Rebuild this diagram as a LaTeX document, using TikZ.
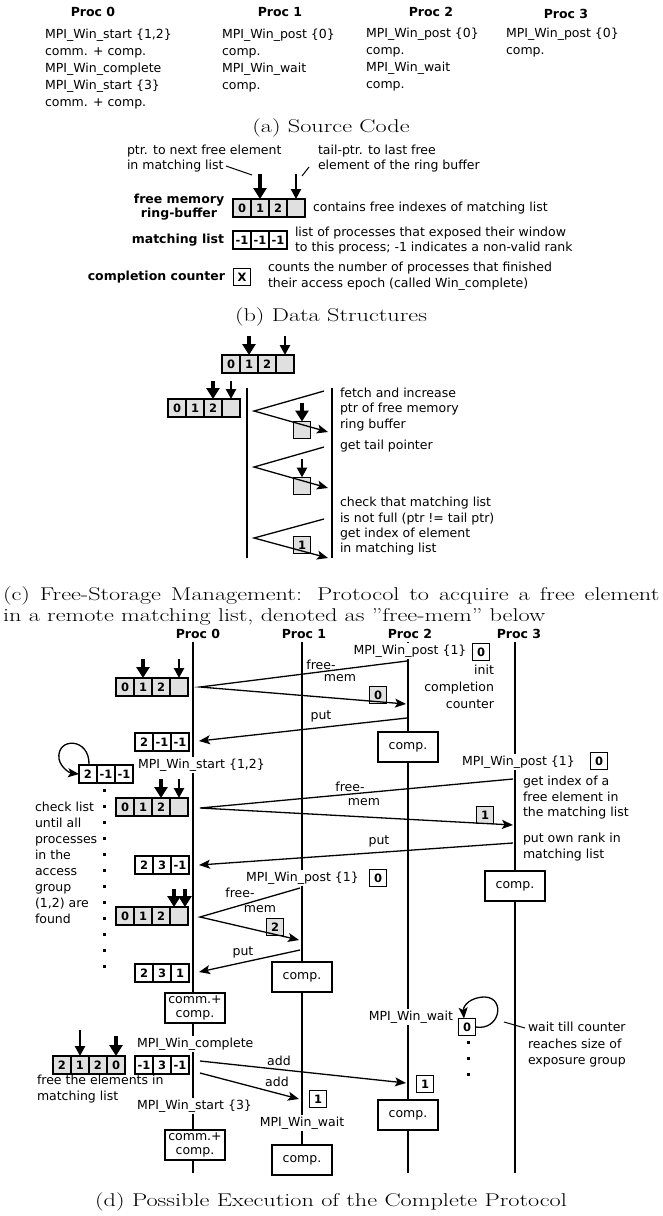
\documentclass[tikz,border=0pt]{standalone}
\usepackage{fontspec}
\usepackage{graphicx}
\setsansfont{DejaVu Sans}
\usetikzlibrary{arrows.meta,positioning}
\newcommand{\mycapt}[1]{\scalebox{1.31}[1]{#1}}
\begin{document}
\begin{tikzpicture}[x=1pt,y=-1pt,
  every node/.style={inner sep=0pt, outer sep=0pt},
  txt/.style={font=\fontsize{12.5}{16}\selectfont\sffamily, align=left},
  ls/.style={font=\fontsize{12.5}{#1}\selectfont\sffamily},
  wtxt/.style={txt, fill=white, inner ysep=2pt},
  hdr/.style={font=\fontsize{12.5}{15}\selectfont\sffamily\bfseries},
  btxt/.style={font=\fontsize{12.5}{14}\selectfont\sffamily\bfseries, align=center},
  captxt/.style={font=\fontsize{18.5}{22}\selectfont},
  cell/.style={draw, line width=1.4pt, minimum width=18pt, minimum height=18pt, font=\fontsize{11.5}{12}\selectfont\sffamily\bfseries},
  gcell/.style={cell, fill=black!12},
  sbox/.style={cell, minimum width=17pt, minimum height=17pt},
  gsbox/.style={sbox, fill=black!12},
  compbox/.style={draw, line width=1.4pt, fill=white, minimum width=60pt, minimum height=30pt, font=\fontsize{12.5}{14}\selectfont\sffamily, align=center},
  life/.style={line width=1.5pt},
  msg/.style={line width=1.3pt, -{Stealth[length=11pt,width=9pt,inset=2.5pt]}},
  ptrA/.style={line width=3.2pt, -{Triangle[length=11pt,width=13pt]}},
  ptrB/.style={line width=2.6pt, -{Triangle[length=10pt,width=10pt]}},
  lead/.style={line width=1pt},
]
\useasboundingbox (0,0) rectangle (662,1216);

% ================= (a) Source Code =================
\node[hdr] (h0) at (93,12) {Proc 0};
\node[hdr] (h1) at (280,12) {Proc 1};
\node[hdr] (h2) at (431,12) {Proc 2};
\node[hdr] (h3) at (566,14) {Proc 3};
\node[txt, ls=17, anchor=north west] (c0) at (45,28.5) {MPI\_Win\_start \{1,2\}\\comm. + comp.\\MPI\_Win\_complete\\MPI\_Win\_start \{3\}\\comm. + comp.};
\node[txt, ls=17, anchor=north west] (c1) at (222,28.5) {MPI\_Win\_post \{0\}\\comp.\\MPI\_Win\_wait\\comp.};
\node[txt, ls=17, anchor=north west] (c2) at (366,27.5) {MPI\_Win\_post \{0\}\\comp.\\MPI\_Win\_wait\\comp.};
\node[txt, ls=17, anchor=north west] (c3) at (506,27.5) {MPI\_Win\_post \{0\}\\comp.};
\node[captxt] (capa) at (331,128) {\mycapt{(a) Source Code}};

% ================= (b) Data Structures =================
\node[txt, ls=15, anchor=north west] (t1) at (127,144.5) {ptr. to next free element\\in matching list};
\node[txt, ls=15, anchor=north west] (t2) at (318,144.5) {tail-ptr. to last free\\element of the ring buffer};
\node[gcell] (b0) at (242,208) {0};
\node[gcell, right=0pt of b0] (b1) {1};
\node[gcell, right=0pt of b1] (b2) {2};
\node[gcell, right=0pt of b2] (b3) {};
\coordinate (l1a) at (226,166); \coordinate (l1b) at (252,175);
\coordinate (l2a) at (309,167); \coordinate (l2b) at (302,176);
\draw[lead] (l1a) -- (l1b);
\draw[lead] (l2a) -- (l2b);
\draw[ptrA] ([yshift=25pt]b1.north) -- (b1.north);
\draw[ptrB] ([yshift=25pt]b3.north) -- (b3.north);
\node[btxt] (fm) at (179,207) {free memory\\ring-buffer};
\node[txt, anchor=west] (fmt) at (313,208) {contains free indexes of matching list};
\node[btxt, anchor=east] (mll) at (224,240) {matching list};
\node[cell] (mb0) at (242,240) {-1};
\node[cell, right=0pt of mb0] (mb1) {-1};
\node[cell, right=0pt of mb1] (mb2) {-1};
\node[txt, ls=15, anchor=west] (mlt) at (295,241) {list of processes that exposed their window\\to this process; -1 indicates a non-valid rank};
\node[btxt, anchor=east] (ccl) at (225,277) {completion counter};
\node[sbox] (xb) at (242,277) {X};
\node[txt, ls=15.5, anchor=west] (cct) at (268,276) {counts the number of processes that finished\\their access epoch (called Win\_complete)};
\node[captxt] (capb) at (331,317) {\mycapt{(b) Data Structures}};

% ================= (c) Free-storage management =================
\node[gcell] (e0) at (231,364) {0};
\node[gcell, right=0pt of e0] (e1) {1};
\node[gcell, right=0pt of e1] (e2) {2};
\node[gcell, right=0pt of e2] (e3) {};
\draw[ptrA] ([yshift=19pt]e1.north) -- (e1.north);
\draw[ptrB] ([yshift=19pt]e3.north) -- (e3.north);
\node[gcell] (f0) at (177,408) {0};
\node[gcell, right=0pt of f0] (f1) {1};
\node[gcell, right=0pt of f1] (f2) {2};
\node[gcell, right=0pt of f2] (f3) {};
\draw[ptrA] ([yshift=18pt]f2.north) -- (f2.north);
\draw[ptrB] ([yshift=18pt]f3.north) -- (f3.north);
\coordinate (cl0t) at (247,388); \coordinate (cl0b) at (247,558);
\coordinate (cl1t) at (332,388); \coordinate (cl1b) at (332,558);
\draw[life] (cl0t) -- (cl0b);
\draw[life] (cl1t) -- (cl1b);
\node[gsbox] (k1) at (302,430) {};
\node[gsbox] (k2) at (302,486) {};
\node[gsbox] (k3) at (302,545) {1};
\draw[ptrA] ([yshift=19pt]k1.north) -- (k1.north);
\draw[ptrB] ([yshift=19pt]k2.north) -- (k2.north);
\coordinate (v1a) at (324,391); \coordinate (v1b) at (254,411); \coordinate (v1c) at (328,432);
\coordinate (v2a) at (324,447); \coordinate (v2b) at (254,467); \coordinate (v2c) at (328,488);
\coordinate (v3a) at (324,519); \coordinate (v3b) at (254,538); \coordinate (v3c) at (328,558);
\draw[msg] (v1a) -- (v1b) -- (v1c);
\draw[msg] (v2a) -- (v2b) -- (v2c);
\draw[msg] (v3a) -- (v3b) -- (v3c);
\node[txt, ls=15.5, anchor=north west] (ct1) at (340,387.5) {fetch and increase\\ptr of free memory\\ring buffer};
\node[txt, anchor=west] (ct2) at (340,446) {get tail pointer};
\node[txt, ls=16, anchor=north west] (ct3) at (340,496.5) {check that matching list\\is not full (ptr != tail ptr)};
\node[txt, ls=15.5, anchor=north west] (ct4) at (340,527.5) {get index of element\\in matching list};
\node[captxt, anchor=west] (capc1) at (3,596) {\mycapt{\makebox[501pt][s]{(c) Free-Storage Management: Protocol to acquire a free element}}};
\node[captxt, anchor=west] (capc2) at (3,617) {\mycapt{in a remote matching list, denoted as ''free-mem'' below}};

% ================= (d) Complete protocol =================
\node[hdr] (p0) at (198,634) {Proc 0};
\node[hdr] (p1) at (304,634) {Proc 1};
\node[hdr] (p2) at (410,634) {Proc 2};
\node[hdr] (p3) at (519,634) {Proc 3};
\coordinate (L0t) at (193,642); \coordinate (L0b) at (193,1173);
\coordinate (L1t) at (302,642); \coordinate (L1b) at (302,1175);
\coordinate (L2t) at (408,642); \coordinate (L2b) at (408,1173);
\coordinate (L3t) at (515,642); \coordinate (L3b) at (515,1173);
\draw[life] (L0t) -- (L0b);
\draw[life] (L1t) -- (L1b);
\draw[life] (L2t) -- (L2b);
\draw[life] (L3t) -- (L3b);

\node[compbox] (cp2a) at (408,747) {comp.};
\node[compbox] (cp3a) at (515,886) {comp.};
\node[compbox] (cp1a) at (302,977) {comp.};
\node[compbox] (cc0a) at (195,1008) {comm.+\\comp.};
\node[compbox] (cp2b) at (408,1115) {comp.};
\node[compbox] (cc0b) at (195,1145) {comm.+\\comp.};
\node[compbox] (cp1b) at (302,1160) {comp.};

% step 1: Proc 2 posts
\node[wtxt] (wp2) at (410,651) {MPI\_Win\_post \{1\}};
\node[sbox] (z2) at (481,652) {0};
\node[txt, ls=17, align=right, anchor=north east] (icc) at (494,665) {init\\completion\\counter};
\node[gcell] (d1a) at (125,687) {0};
\node[gcell, right=0pt of d1a] (d1b) {1};
\node[gcell, right=0pt of d1b] (d1c) {2};
\node[gcell, right=0pt of d1c] (d1d) {};
\draw[ptrA] ([yshift=19pt]d1b.north) -- (d1b.north);
\draw[ptrB] ([yshift=19pt]d1d.north) -- (d1d.north);
\node[gsbox] (g0) at (378,695) {0};
\coordinate (m1a) at (407,661); \coordinate (m1b) at (200,687); \coordinate (m1c) at (406,704);
\draw[msg] (m1a) -- (m1b) -- (m1c);
\node[txt] (fr1) at (321,665) {free-};
\node[txt] (me1) at (340,678) {mem};
\coordinate (m1d) at (407,718); \coordinate (m1e) at (199,741);
\draw[msg] (m1d) -- (m1e);
\node[txt] (pu1) at (321,716) {put};
\node[cell] (a2a) at (144,742) {2};
\node[cell, right=0pt of a2a] (a2b) {-1};
\node[cell, right=0pt of a2b] (a2c) {-1};

% step 2: Proc 0 starts, Proc 3 posts
\node[cell] (a3a) at (88,774) {2};
\node[cell, right=0pt of a3a] (a3b) {-1};
\node[cell, right=0pt of a3b] (a3c) {-1};
\draw[msg] ([xshift=1pt]a3a.north) .. controls (90,737) and (56,737) .. (59,759) .. controls (61,768) and (70,773) .. (a3a.west);
\node[wtxt, anchor=west] (ws12) at (138,765) {MPI\_Win\_start \{1,2\}};
\node[wtxt, anchor=west] (wp3) at (462,762) {MPI\_Win\_post \{1\}};
\node[sbox] (z3) at (599,761) {0};
\node[gcell] (d2a) at (125,807) {0};
\node[gcell, right=0pt of d2a] (d2b) {1};
\node[gcell, right=0pt of d2b] (d2c) {2};
\node[gcell, right=0pt of d2c] (d2d) {};
\draw[ptrA] ([yshift=19pt]d2c.north) -- (d2c.north);
\draw[ptrB] ([yshift=19pt]d2d.north) -- (d2d.north);
\node[gsbox] (g1) at (485,815) {1};
\coordinate (m2a) at (513,779); \coordinate (m2b) at (200,808); \coordinate (m2c) at (513,825);
\draw[msg] (m2a) -- (m2b) -- (m2c);
\node[txt] (fr2) at (350,787) {free-};
\node[txt] (me2) at (364,802) {mem};
\node[txt, ls=15.5, anchor=north west] (gi) at (523,776) {get index of a\\free element in\\the matching list};
\node[txt, ls=16, anchor=north west] (po) at (523,833) {put own rank in\\matching list};
\coordinate (m2d) at (513,843); \coordinate (m2e) at (199,865);
\draw[msg] (m2d) -- (m2e);
\node[txt] (pu2) at (379,841) {put};
\node[cell] (a5a) at (144,865) {2};
\node[cell, right=0pt of a5a] (a5b) {3};
\node[cell, right=0pt of a5b] (a5c) {-1};

% step 3: Proc 1 posts
\node[wtxt, anchor=west] (wp1) at (246,878) {MPI\_Win\_post \{1\}};
\node[sbox] (z1) at (378,878) {0};
\node[gcell] (d3a) at (125,916) {0};
\node[gcell, right=0pt of d3a] (d3b) {1};
\node[gcell, right=0pt of d3b] (d3c) {2};
\node[gcell, right=0pt of d3c] (d3d) {};
\draw[ptrA] ([xshift=-5pt,yshift=18pt]d3d.north) -- ([xshift=-5pt]d3d.north);
\draw[ptrA] ([xshift=6pt,yshift=18pt]d3d.north) -- ([xshift=6pt]d3d.north);
\node[gsbox] (g2) at (275,927) {2};
\coordinate (m3a) at (300,888); \coordinate (m3b) at (200,917); \coordinate (m3c) at (299,940);
\draw[msg] (m3a) -- (m3b) -- (m3c);
\node[txt] (fr3) at (240,893) {free-};
\node[txt] (me3) at (260,909) {mem};
\coordinate (m3d) at (300,950); \coordinate (m3e) at (199,972);
\draw[msg] (m3d) -- (m3e);
\node[txt] (pu3) at (243,952) {put};
\node[cell] (a7a) at (144,973) {2};
\node[cell, right=0pt of a7a] (a7b) {3};
\node[cell, right=0pt of a7b] (a7c) {1};

% check-list annotation
\foreach \k in {0,...,11} {\fill (102.5,788.5+16*\k) rectangle ++(3,3);}
\node[txt, ls=16, anchor=north west] (chk) at (35,802) {check list\\until all\\processes\\in the\\access\\group\\(1,2) are\\found};

% step 4: waits and completes
\node[wtxt, anchor=east] (ww2) at (453,1017) {MPI\_Win\_wait};
\node[sbox] (z4) at (467,1027) {0};
\draw[msg] (z4.east) .. controls (500,1031) and (506,998) .. (485,997) .. controls (470,997) and (463,1006) .. ([xshift=-3pt]z4.north);
\foreach \yy in {1041,1057,1073} {\fill (466.5,\yy) rectangle ++(3,3);}
\coordinate (wl1) at (504,1022); \coordinate (wl2) at (525,1028);
\draw[lead] (wl1) -- (wl2);
\node[txt, ls=16.5, anchor=north west] (wt) at (528,1022) {wait till counter\\reaches size of\\exposure group};
\node[wtxt, anchor=west] (wc) at (137,1044) {MPI\_Win\_complete};
\node[gcell] (d4a) at (62,1065) {2};
\node[gcell, right=0pt of d4a] (d4b) {1};
\node[gcell, right=0pt of d4b] (d4c) {2};
\node[gcell, right=0pt of d4c] (d4d) {0};
\draw[ptrB] ([yshift=26pt]d4b.north) -- (d4b.north);
\draw[ptrA] ([yshift=20pt]d4d.north) -- (d4d.north);
\node[cell] (a9a) at (144,1065) {-1};
\node[cell, right=0pt of a9a] (a9b) {3};
\node[cell, right=0pt of a9b] (a9c) {-1};
\node[txt, ls=16, anchor=north west] (fe) at (37,1075) {free the elements in\\matching list};
\node[sbox] (o2) at (425,1084) {1};
\node[sbox] (o1) at (318,1099) {1};
\coordinate (ad1a) at (200,1061); \coordinate (ad1b) at (406,1083);
\coordinate (ad2a) at (200,1073); \coordinate (ad2b) at (299,1099);
\draw[msg] (ad1a) -- (ad1b);
\draw[msg] (ad2a) -- (ad2b);
\node[txt] (add1) at (279,1061) {add};
\node[txt] (add2) at (277,1082) {add};
\node[wtxt, anchor=west] (ws3) at (137,1106) {MPI\_Win\_start \{3\}};
\node[wtxt] (ww1) at (302,1123) {MPI\_Win\_wait};
\node[captxt] (capd) at (331,1202) {\mycapt{(d) Possible Execution of the Complete Protocol}};
\end{tikzpicture}
\end{document}
